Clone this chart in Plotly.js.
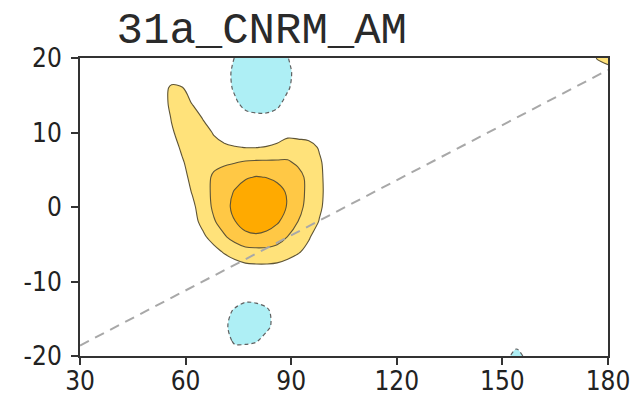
<!DOCTYPE html>
<html>
<head>
<meta charset="utf-8">
<script src="https://cdn.plot.ly/plotly-3.0.1.min.js"></script>
<style>html,body{margin:0;padding:0;background:#fff;}#chart{width:637px;height:396px;}</style>
</head>
<body>
<div id="chart"></div>
<script>
// grid longitudes (x) and latitudes (y)
const lonGrid = [30,45,50,53,56,59,62,65,68,71, 74,77,80,83,86,89,92,95,98,101, 104,110,148,151,154,157,170,175,177,180];
const latGrid = [-20,-19,-18,-16,-14,-12,-10,-8,-6,-4,-2,0,2,4,6,8,10,12,14,16,18,19,20];
// field values, one row per latitude
const fieldRows = [
 [0,0,0,0,0,0,0,0,0,-0.1, -0.3,-0.3,-0.1,0,0,0,0,0,0,0, 0,0,0,0,-2.5,0,0,0,0,0],
 [0,0,0,0,0,0,0,0,0,-0.3, -0.8,-0.75,-0.5,-0.1,0,0,0,0,0,0, 0,0,0,0,-0.9,0,0,0,0,0],
 [0,0,0,0,0,0,0,0,-0.1,-0.6, -1.15,-1.2,-1.1,-0.5,-0.1,0,0,0,0,0, 0,0,0,0,0,0,0,0,0,0],
 [0,0,0,0,0,0,0,0,-0.2,-0.75, -1.5,-1.75,-1.6,-1.3,-0.5,-0.1,0,0,0,0, 0,0,0,0,0,0,0,0,0,0],
 [0,0,0,0,0,0,0,0,-0.1,-0.5, -1.2,-1.6,-1.55,-1.25,-0.4,-0.05,0,0,0,0, 0,0,0,0,0,0,0,0,0,0],
 [0,0,0,0,0,0,0,0,0,-0.1, -0.3,-0.6,-0.55,-0.3,-0.1,0,0,0,0,0, 0,0,0,0,0,0,0,0,0,0],
 [0,0,0,0,0,0,0,0,0,0, 0.05,0.1,0.1,0.1,0.05,0,0,0,0,0, 0,0,0,0,0,0,0,0,0,0],
 [0,0,0,0,0,0,0,0,0.2,0.4, 0.6,0.8,0.85,0.85,0.8,0.6,0.35,0.1,0,0, 0,0,0,0,0,0,0,0,0,0],
 [0,0,0,0,0,0,0.05,0.3,0.7,1.1, 1.45,1.65,1.7,1.7,1.6,1.4,1.1,0.7,0.3,0.05, 0,0,0,0,0,0,0,0,0,0],
 [0,0,0,0,0,0.1,0.4,0.85,1.35,1.9, 2.35,2.75,2.85,2.75,2.45,1.98,1.5,1.1,0.5,0.15, 0,0,0,0,0,0,0,0,0,0],
 [0,0,0,0,0.1,0.3,0.7,1.25,1.9,2.4, 2.97,3.4,3.55,3.4,3.1,2.6,1.98,1.5,0.95,0.45, 0.05,0,0,0,0,0,0,0,0,0],
 [0,0,0,0.05,0.2,0.5,0.85,1.41,2.18,2.7, 3.23,3.7,3.9,3.75,3.3,2.95,2.25,1.71,1.15,0.59, 0.1,0,0,0,0,0,0,0,0,0],
 [0,0,0,0.1,0.3,0.6,1.06,1.5,2.25,2.65, 3.07,3.5,3.7,3.6,3.25,2.92,2.4,1.73,1.2,0.65, 0.15,0,0,0,0,0,0,0,0,0],
 [0,0,0.02,0.15,0.4,0.7,1.26,1.6,2.15,2.45, 2.7,2.9,3.05,2.98,2.85,2.6,2.3,1.74,1.2,0.6, 0.15,0,0,0,0,0,0,0,0,0],
 [0,0,0.05,0.2,0.45,0.9,1.4,1.6,1.75,1.85, 1.95,2.1,2.15,2.15,2.15,2.1,1.85,1.6,1.15,0.51, 0.1,0,0,0,0,0,0,0,0,0],
 [0,0,0.1,0.3,0.6,1.15,1.35,1.3,1.2,1.1, 1.05,0.98,0.98,1.05,1.2,1.5,1.5,1.4,0.9,0.3, 0.05,0,0,0,0,0,0,0,0,0],
 [0,0,0.1,0.3,0.9,1.3,1.35,1.25,0.95,0.75, 0.4,0.35,0.3,0.35,0.5,0.7,0.6,0.5,0.2,0.05, 0,0,0,0,0,0,0,0,0,0],
 [0,0,0.1,0.45,1.05,1.4,1.3,0.95,0.5,0, -0.3,-0.6,-0.75,-0.75,-0.55,-0.25,0,0,0,0, 0,0,0,0,0,0,0,0,0,0],
 [0,0,0.1,0.6,1.2,1.3,0.95,0.5,0.15,-0.3, -0.8,-1.4,-1.55,-1.55,-1.3,-0.6,-0.1,0,0,0, 0,0,0,0,0,0,0,0,0,0],
 [0,0,0.05,0.6,1.15,1.05,0.5,0.1,-0.1,-0.45, -1.2,-1.9,-2.1,-2.1,-1.8,-1.15,-0.4,-0.05,0,0, 0,0,0,0,0,0,0,0,0,0],
 [0,0,0,0.2,0.4,0.3,0.1,0,-0.15,-0.5, -1.3,-2.1,-2.3,-2.3,-2.0,-1.3,-0.5,-0.1,0,0, 0,0,0,0,0,0,0,0,0,0],
 [0,0,0,0,0,0,0,0,-0.1,-0.4, -1.2,-2.0,-2.2,-2.2,-1.9,-1.2,-0.4,-0.1,0,0, 0,0,0,0,0,0,0,0,0.3,0.9],
 [0,0,0,0,0,0,0,0,-0.05,-0.3, -1.05,-1.8,-2.0,-2.0,-1.8,-1.05,-0.3,0,0,0, 0,0,0,0,0,0,0,0,1.2,1.8]
];
// dashed reference line end points
const refLineX = [30, 180];
const refLineY = [-18.6, 18.4];
// tick labels
const xTicks = [30, 60, 90, 120, 150, 180];
const yTicks = [-20, -10, 0, 10, 20];
const yTickText = ['-20', '-10', '0', '10', '20'];
const titleText = '31a_CNRM_AM';

const fillTrace = {
  type: 'contour', x: lonGrid, y: latGrid, z: fieldRows,
  autocontour: false,
  contours: {start: -1, end: 3, size: 1, coloring: 'fill', showlines: false},
  colorscale: [[0,'#aeeff5'],[0.2,'#ffffff'],[0.4,'#ffffff'],[0.6,'#ffe27a'],[0.8,'#ffc845'],[1,'#ffaa00']],
  showscale: false, line: {width: 0, smoothing: 1}, hoverinfo: 'skip'
};
const posLines = {
  type: 'contour', x: lonGrid, y: latGrid, z: fieldRows,
  autocontour: false,
  contours: {start: 1, end: 3, size: 1, coloring: 'none', showlines: true},
  line: {color: '#5e5436', width: 1.1, smoothing: 1},
  showscale: false, hoverinfo: 'skip'
};
const negLines = {
  type: 'contour', x: lonGrid, y: latGrid, z: fieldRows,
  autocontour: false,
  contours: {start: -1, end: -1, size: 1, coloring: 'none', showlines: true},
  line: {color: '#606060', width: 1.2, dash: '4px,3px', smoothing: 1},
  showscale: false, hoverinfo: 'skip'
};
const refLine = {
  type: 'scatter', mode: 'lines', x: refLineX, y: refLineY,
  line: {color: '#a8a8a8', width: 2, dash: '10px,7px'}, hoverinfo: 'skip'
};

const tickFont = {family: '"DejaVu Sans Condensed", "Liberation Sans Narrow", "Liberation Sans", sans-serif', size: 26, color: '#222'};
const axisCommon = {
  showline: true, linecolor: '#333', linewidth: 2, mirror: true,
  ticks: 'outside', ticklen: 7, tickwidth: 2, tickcolor: '#333',
  showgrid: false, zeroline: false, tickfont: tickFont, tickmode: 'array'
};
const layout = {
  width: 637, height: 396,
  margin: {l: 80, r: 29, t: 58, b: 40},
  paper_bgcolor: '#ffffff', plot_bgcolor: '#ffffff',
  showlegend: false,
  title: {text: titleText, x: 0.411, xanchor: 'center', xref: 'container', y: 0.93, yref: 'container', yanchor: 'middle',
          font: {family: '"Liberation Mono", monospace', size: 44, color: '#2a2a2a'}},
  xaxis: Object.assign({}, axisCommon, {range: [30, 180], tickvals: xTicks, ticktext: xTicks.map(String), ticklabelstandoff: -6}),
  yaxis: Object.assign({}, axisCommon, {range: [-20, 20], tickvals: yTicks, ticktext: yTickText, ticklabelstandoff: 4})
};
Plotly.newPlot('chart', [fillTrace, posLines, negLines, refLine], layout, {staticPlot: true, displayModeBar: false});
</script>
</body>
</html>
